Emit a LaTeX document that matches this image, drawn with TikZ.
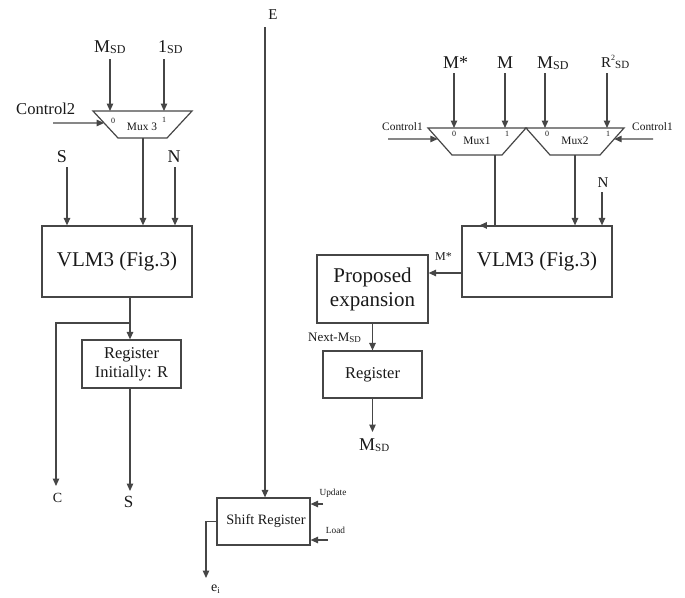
\documentclass[tikz,border=0pt]{standalone}
\usepackage{fontspec}
\setmainfont{Liberation Serif}
\usetikzlibrary{arrows.meta,calc}
\definecolor{lc}{RGB}{70,70,70}
\definecolor{tc}{RGB}{25,25,25}
\newcommand\fsz[2]{\fontsize{#1}{#2}\selectfont}
\newcommand\sdsub[1]{\raisebox{-1pt}{\fsz{#1}{#1}SD}}
\begin{document}
\begin{tikzpicture}[x=1pt,y=-1pt,
  ln/.style={draw=lc,line width=1.2pt},
  arr/.style={ln,-{Triangle[length=7.5pt,width=6.5pt]}},
  box/.style={draw=lc,line width=1.2pt,inner sep=2pt,text=tc,align=center},
  lbl/.style={inner sep=0pt,text=tc},
  mux/.style={draw=lc,line width=1.2pt,line join=miter}
]
\useasboundingbox (0,0) rectangle (685,597);

% ---------------- Left part ----------------
\coordinate (m3tl) at (93,111);
\coordinate (m3tr) at (192,111);
\coordinate (m3br) at (167,138);
\coordinate (m3bl) at (118,138);
\draw[mux] (m3tl) -- (m3tr) -- (m3br) -- (m3bl) -- cycle;
\node[lbl,anchor=base,font=\fsz{11.4}{12}] (m3lab) at (142,130) {Mux 3};
\node[lbl,anchor=base,font=\fsz{8}{8}] (m3z) at (113,123) {0};
\node[lbl,anchor=base,font=\fsz{8}{8}] (m3o) at (164,122) {1};

\node[lbl,anchor=base west,font=\fsz{18}{20}] (tMSDl) at (94,52) {M\sdsub{12}};
\node[lbl,anchor=base west,font=\fsz{18}{20}] (t1SD) at (158,52) {1\sdsub{12}};
\coordinate (aMSDl) at (110,59);
\coordinate (a1SD) at (164,59);
\draw[arr] (aMSDl) -- (aMSDl |- m3tl);
\draw[arr] (a1SD) -- (a1SD |- m3tl);

\node[lbl,anchor=base west,font=\fsz{16.6}{18}] (tC2) at (16,114) {Control2};
\coordinate (aC2) at (53,123);
\draw[arr] (aC2) -- ($(m3tl)!12/27!(m3bl)$);

\node[box,minimum width=150pt,minimum height=71pt,font=\fsz{21}{24}] (vlmL) at (117,261.5) {VLM3 (Fig.3)};

\coordinate (m3out) at (143,138);
\draw[arr] (m3out) -- (m3out |- vlmL.north);

\node[lbl,anchor=base,font=\fsz{18}{20}] (tSl) at (62,162) {S};
\node[lbl,anchor=base,font=\fsz{18}{20}] (tNl) at (174,162) {N};
\coordinate (aS) at (67,167);
\coordinate (aN) at (175,167);
\draw[arr] (aS) -- (aS |- vlmL.north);
\draw[arr] (aN) -- (aN |- vlmL.north);

\node[box,minimum width=99pt,minimum height=48pt,font=\fsz{16.5}{19}] (regL) at (131.5,364) {Register\\Initially: R};
\coordinate (jL) at (130,323);
\draw[ln] (jL |- vlmL.south) -- (jL);
\draw[arr] (jL) -- (jL |- regL.north);
\coordinate (cTip) at (56,486);
\draw[arr] (jL) -| (cTip);
\node[lbl,anchor=base,font=\fsz{14}{16}] (tC) at (57.5,502) {C};
\coordinate (sTip) at (130,491);
\draw[arr] (jL |- regL.south) -- (sTip);
\node[lbl,anchor=base,font=\fsz{17}{18}] (tSb) at (128.5,507) {S};

% ---------------- Centre part ----------------
\node[lbl,anchor=base,font=\fsz{15}{16}] (tE) at (273,19) {E};
\coordinate (eTop) at (265,27);
\node[box,minimum width=93pt,minimum height=47pt,font=\fsz{14.3}{16}] (sr) at (263.5,521.5) {\hspace*{5pt}Shift Register};
\draw[arr] (eTop) -- (eTop |- sr.north);
\coordinate (eiTip) at (206,578);
\draw[arr] (sr.west) -| (eiTip);
\node[lbl,anchor=base west,font=\fsz{14}{16}] (tei) at (211,591) {e\raisebox{-2pt}{\fsz{9}{9}i}};
\node[lbl,anchor=base,font=\fsz{9.3}{10}] (tUp) at (333,495) {Update};
\coordinate (aUp) at (323,504);
\draw[arr] (aUp) -- (aUp -| sr.east);
\node[lbl,anchor=base,font=\fsz{9.3}{10}] (tLd) at (335.5,533) {Load};
\coordinate (aLd) at (328,540);
\draw[arr] (aLd) -- (aLd -| sr.east);

% ---------------- Right part ----------------
\coordinate (m1tl) at (428,128);
\coordinate (m1tr) at (526,128);
\coordinate (m1br) at (502,155);
\coordinate (m1bl) at (452,155);
\coordinate (m2tl) at (526,128);
\coordinate (m2tr) at (624,128);
\coordinate (m2br) at (600,155);
\coordinate (m2bl) at (550,155);
\draw[mux] (m1tl) -- (m1tr) -- (m1br) -- (m1bl) -- cycle;
\draw[mux] (m2tl) -- (m2tr) -- (m2br) -- (m2bl) -- cycle;
\node[lbl,anchor=base,font=\fsz{11.4}{12}] (m1lab) at (477,144) {Mux1};
\node[lbl,anchor=base,font=\fsz{11.4}{12}] (m2lab) at (575,144) {Mux2};
\node[lbl,anchor=base,font=\fsz{8}{8}] (m1z) at (454,136) {0};
\node[lbl,anchor=base,font=\fsz{8}{8}] (m1o) at (507,136) {1};
\node[lbl,anchor=base,font=\fsz{8}{8}] (m2z) at (547,136) {0};
\node[lbl,anchor=base,font=\fsz{8}{8}] (m2o) at (608,136) {1};

\node[lbl,anchor=base west,font=\fsz{18}{20}] (tMst1) at (443,68) {M*};
\node[lbl,anchor=base,font=\fsz{18}{20}] (tM) at (505,68) {M};
\node[lbl,anchor=base west,font=\fsz{18}{20}] (tMSDr) at (537,68) {M\sdsub{12}};
\node[lbl,anchor=base west,font=\fsz{15}{16}] (tR2) at (601,67) {R\raisebox{7pt}{\fsz{8}{8}2}\raisebox{-1.5pt}{\fsz{11}{11}SD}};
\coordinate (a1) at (454,73);
\coordinate (a2) at (505,73);
\coordinate (a3) at (545,73);
\coordinate (a4) at (607,73);
\draw[arr] (a1) -- (a1 |- m1tl);
\draw[arr] (a2) -- (a2 |- m1tl);
\draw[arr] (a3) -- (a3 |- m2tl);
\draw[arr] (a4) -- (a4 |- m2tl);

\node[lbl,anchor=base west,font=\fsz{11.4}{12}] (tCl1) at (382,130) {Control1};
\coordinate (aCl1) at (388,139);
\draw[arr] (aCl1) -- ($(m1tl)!11/27!(m1bl)$);
\node[lbl,anchor=base west,font=\fsz{11.4}{12}] (tCr1) at (632,130) {Control1};
\coordinate (aCr1) at (653,139);
\draw[arr] (aCr1) -- ($(m2tr)!11/27!(m2br)$);

\node[box,minimum width=150pt,minimum height=71pt,font=\fsz{21}{24}] (vlmR) at (537,261.5) {VLM3 (Fig.3)};
\coordinate (m1out) at (495,155);
\coordinate (m2out) at (575,155);
\draw[arr] (m1out) |- ([xshift=18pt]vlmR.north west);
\draw[arr] (m2out) -- (m2out |- vlmR.north);
\node[lbl,anchor=base,font=\fsz{15}{16}] (tNr) at (603,187) {N};
\coordinate (aNr) at (602,192);
\draw[arr] (aNr) -- (aNr |- vlmR.north);

\node[box,minimum width=111pt,minimum height=68pt,font=\fsz{21}{24}] (prop) at (372.5,289) {Proposed\\expansion};
\coordinate (mst) at (462,273);
\draw[arr] (mst) -- (mst -| prop.east);
\node[lbl,anchor=base west,font=\fsz{12}{13}] (tMst2) at (435,260) {M*};

\node[box,minimum width=99pt,minimum height=47pt,font=\fsz{16.5}{19}] (regR) at (372.5,374.5) {Register};
\draw[arr] (prop.south) -- (regR.north);
\node[lbl,anchor=base west,font=\fsz{13}{14}] (tNext) at (308,341) {Next-M\sdsub{9}};
\coordinate (msTip) at (372.5,432);
\draw[arr] (regR.south) -- (msTip);
\node[lbl,anchor=base west,font=\fsz{18}{20}] (tMSDb) at (359,450) {M\sdsub{11}};
\end{tikzpicture}
\end{document}
